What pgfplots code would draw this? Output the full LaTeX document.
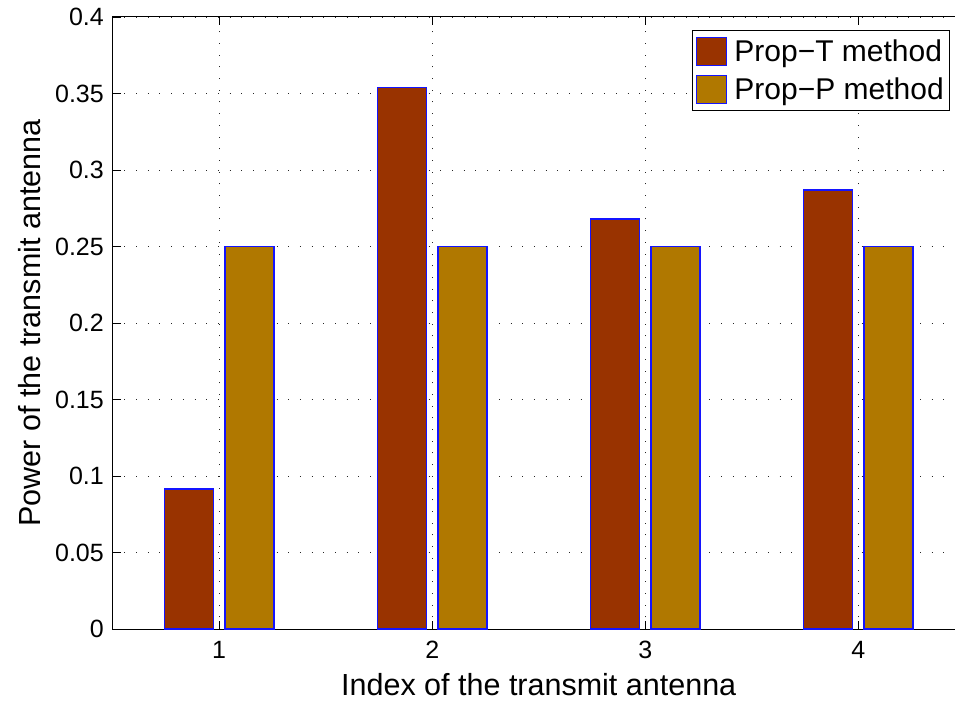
\documentclass[border=0pt]{standalone}
\usepackage{pgfplots}
\pgfplotsset{compat=1.18}
\usepackage{fontspec}
\setmainfont{Liberation Sans}
\definecolor{barT}{RGB}{153,51,0}
\definecolor{barP}{RGB}{176,120,0}
\definecolor{edgeB}{RGB}{20,20,255}
\begin{document}
\begin{tikzpicture}
\begin{axis}[
  at={(0,0)}, anchor=south west,
  scale only axis,
  width=852bp, height=612bp,
  xmin=0.5, xmax=4.5, ymin=0, ymax=0.4,
  xtick={1,2,3,4},
  ytick={0,0.05,0.1,0.15,0.2,0.25,0.3,0.35,0.4},
  /pgf/number format/assume math mode=true,
  /pgf/number format/fixed,
  /pgf/number format/precision=2,
  tick align=inside,
  major tick length=8bp,
  tick style={black, line width=0.8bp},
  axis line style={black, line width=1bp},
  grid=major,
  major grid style={black!85, line width=0.9bp, dash pattern=on 1bp off 10.7bp},
  ticklabel style={font=\fontsize{25bp}{30bp}\selectfont, inner sep=0pt},
  xticklabel shift=12bp,
  yticklabel shift=8.7bp,
  xlabel={Index of the transmit antenna},
  ylabel={Power of the transmit antenna},
  every axis x label/.style={at={(axis description cs:0.5,-0.0915)}, anchor=center, font=\fontsize{30.5bp}{36bp}\selectfont},
  every axis y label/.style={at={(axis description cs:-0.0971,0.5)}, rotate=90, anchor=center, font=\fontsize{30.5bp}{36bp}\selectfont},
  legend style={at={(axis description cs:0.983,0.978)}, anchor=north east,
    draw=black, line width=1bp, fill=white,
    font=\fontsize{30bp}{36bp}\selectfont,
    inner xsep=4bp, inner ysep=6bp,
    row sep=9bp,
    legend cell align=left},
]
\addplot[ybar, bar width=0.230, bar shift=-0.143, fill=barT, draw=edgeB, line width=1.4bp,
  legend image code/.code={\draw[fill=barT, draw=edgeB, line width=1.1bp] (0bp,-14bp) rectangle (30bp,14bp); \path (35bp,0bp);}]
  coordinates {(1,0.0915) (2,0.354) (3,0.268) (4,0.287)};
\addlegendentry{Prop−T method}
\addplot[ybar, bar width=0.230, bar shift=0.143, fill=barP, draw=edgeB, line width=1.4bp,
  legend image code/.code={\draw[fill=barP, draw=edgeB, line width=1.1bp] (0bp,-14bp) rectangle (30bp,14bp); \path (35bp,0bp);}]
  coordinates {(1,0.25) (2,0.25) (3,0.25) (4,0.25)};
\addlegendentry{Prop−P method}
\end{axis}
\pgfresetboundingbox
\useasboundingbox (-112.7bp,-72bp) rectangle (842.3bp,629bp);
\end{tikzpicture}
\end{document}
